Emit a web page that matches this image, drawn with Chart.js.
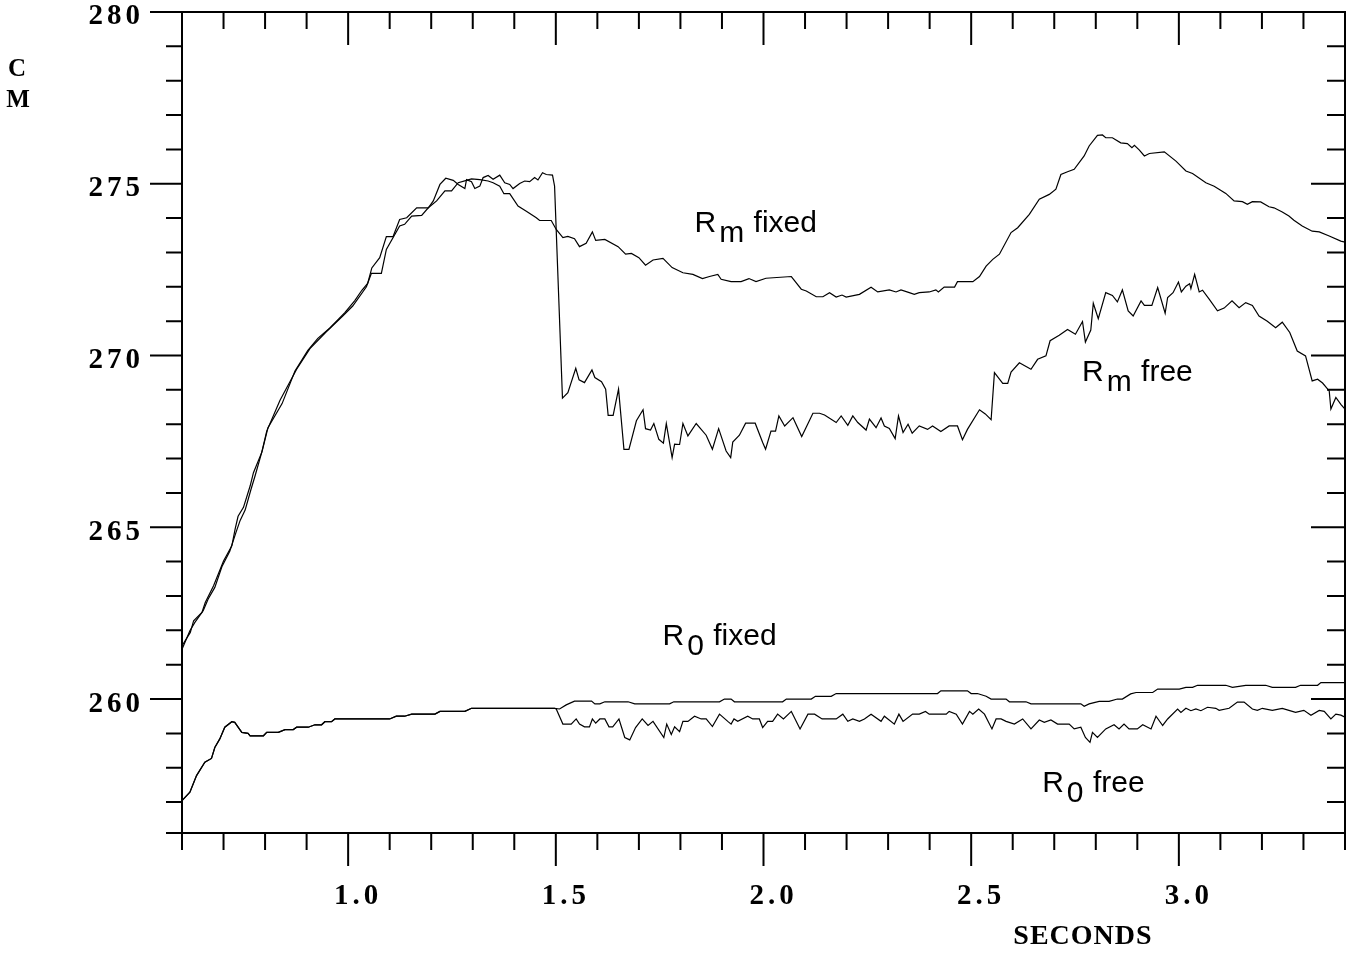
<!DOCTYPE html>
<html>
<head>
<meta charset="utf-8">
<title>Rm / R0 vs seconds</title>
<script src="https://cdn.jsdelivr.net/npm/chart.js@4.4.1/dist/chart.umd.min.js"></script>
<style>
  html, body { margin: 0; padding: 0; background: #fff; }
  #wrap { width: 1346px; height: 958px; }
</style>
</head>
<body>
<div id="wrap"><canvas id="chart" width="1346" height="958"></canvas></div>
<script>
// ==== Data (seconds / cm) ====
const rmFixedTime = [0.600, 0.620, 0.628, 0.648, 0.656, 0.676, 0.700, 0.720, 0.728, 0.735, 0.748, 0.764, 0.772, 0.792, 0.804, 0.836, 0.876, 0.908, 0.948, 0.987,
  1.011, 1.044, 1.056, 1.080, 1.092, 1.124, 1.136, 1.153, 1.177, 1.193, 1.213, 1.233, 1.249, 1.265, 1.285, 1.297, 1.317, 1.337, 1.349, 1.365,
  1.375, 1.389, 1.409, 1.429, 1.453, 1.461, 1.489, 1.501, 1.517, 1.529, 1.545, 1.557, 1.573, 1.588, 1.596, 1.618, 1.650, 1.668, 1.682, 1.700,
  1.716, 1.734, 1.758, 1.780, 1.806, 1.830, 1.853, 1.870, 1.890, 1.898, 1.922, 1.946, 1.965, 1.982, 2.006, 2.067, 2.091, 2.103, 2.127, 2.143,
  2.159, 2.175, 2.189, 2.199, 2.231, 2.259, 2.275, 2.303, 2.319, 2.331, 2.351, 2.363, 2.375, 2.399, 2.415, 2.421, 2.435, 2.460, 2.467, 2.504,
  2.520, 2.536, 2.552, 2.568, 2.596, 2.612, 2.640, 2.664, 2.688, 2.704, 2.716, 2.732, 2.748, 2.772, 2.784, 2.804, 2.816, 2.824, 2.840, 2.860,
  2.876, 2.887, 2.893, 2.905, 2.917, 2.929, 2.965, 2.993, 3.017, 3.033, 3.065, 3.085, 3.113, 3.133, 3.153, 3.165, 3.177, 3.197, 3.217, 3.229,
  3.249, 3.265, 3.277, 3.297, 3.321, 3.338, 3.362, 3.390, 3.400];
const rmFixedCm = [261.55, 261.94, 262.28, 262.52, 262.81, 263.30, 264.02, 264.46, 264.95, 265.32, 265.58, 266.20, 266.59, 267.18, 267.80, 268.70, 269.60, 270.20, 270.70, 271.15,
  271.44, 272.00, 272.39, 272.39, 273.09, 273.77, 273.82, 274.06, 274.08, 274.30, 274.50, 274.79, 274.79, 275.03, 275.10, 275.14, 275.12, 275.08, 275.03, 274.93,
  274.71, 274.71, 274.35, 274.20, 274.01, 273.93, 273.93, 273.67, 273.43, 273.47, 273.40, 273.17, 273.27, 273.60, 273.35, 273.38, 273.17, 272.95, 272.97, 272.85,
  272.63, 272.78, 272.83, 272.56, 272.41, 272.36, 272.24, 272.30, 272.36, 272.22, 272.15, 272.15, 272.24, 272.15, 272.25, 272.30, 271.93, 271.88, 271.71, 271.71,
  271.83, 271.70, 271.76, 271.70, 271.78, 271.99, 271.85, 271.91, 271.85, 271.91, 271.83, 271.78, 271.83, 271.85, 271.91, 271.85, 271.99, 271.99, 272.15, 272.15,
  272.30, 272.60, 272.80, 272.95, 273.58, 273.72, 274.11, 274.55, 274.69, 274.84, 275.27, 275.35, 275.42, 275.81, 276.10, 276.41, 276.42, 276.34, 276.34, 276.19,
  276.17, 276.05, 276.12, 275.98, 275.81, 275.88, 275.93, 275.66, 275.37, 275.30, 275.03, 274.93, 274.72, 274.50, 274.48, 274.40, 274.48, 274.47, 274.33, 274.30,
  274.18, 274.06, 273.94, 273.77, 273.62, 273.60, 273.48, 273.33, 273.30];

const rmFreeTime = [0.600, 0.619, 0.631, 0.651, 0.663, 0.679, 0.696, 0.715, 0.730, 0.740, 0.752, 0.766, 0.776, 0.794, 0.807, 0.841, 0.872, 0.903, 0.927, 0.956,
  0.992, 1.016, 1.033, 1.047, 1.057, 1.076, 1.092, 1.108, 1.124, 1.141, 1.165, 1.193, 1.205, 1.221, 1.235, 1.253, 1.265, 1.281, 1.285, 1.297,
  1.305, 1.317, 1.325, 1.337, 1.349, 1.365, 1.377, 1.389, 1.397, 1.413, 1.425, 1.437, 1.449, 1.457, 1.468, 1.477, 1.492, 1.497, 1.516, 1.529,
  1.548, 1.556, 1.569, 1.587, 1.594, 1.610, 1.620, 1.626, 1.638, 1.651, 1.664, 1.676, 1.694, 1.710, 1.716, 1.728, 1.736, 1.748, 1.759, 1.766,
  1.780, 1.786, 1.798, 1.806, 1.818, 1.838, 1.862, 1.877, 1.892, 1.910, 1.921, 1.926, 1.942, 1.957, 1.980, 1.998, 2.005, 2.018, 2.029, 2.037,
  2.051, 2.071, 2.092, 2.119, 2.135, 2.147, 2.175, 2.187, 2.203, 2.215, 2.227, 2.247, 2.255, 2.271, 2.283, 2.291, 2.303, 2.317, 2.325, 2.336,
  2.348, 2.358, 2.375, 2.395, 2.407, 2.427, 2.447, 2.467, 2.479, 2.491, 2.520, 2.534, 2.548, 2.556, 2.576, 2.588, 2.596, 2.616, 2.644, 2.660,
  2.680, 2.690, 2.712, 2.732, 2.751, 2.768, 2.775, 2.788, 2.794, 2.806, 2.824, 2.840, 2.852, 2.864, 2.878, 2.890, 2.909, 2.917, 2.935, 2.949,
  2.967, 2.973, 2.986, 2.999, 3.006, 3.017, 3.026, 3.029, 3.038, 3.049, 3.057, 3.073, 3.093, 3.109, 3.128, 3.145, 3.161, 3.177, 3.193, 3.213,
  3.233, 3.249, 3.267, 3.285, 3.305, 3.321, 3.334, 3.346, 3.362, 3.366, 3.378, 3.390, 3.400];
const rmFreeCm = [261.45, 261.99, 262.23, 262.57, 262.91, 263.25, 263.85, 264.30, 264.85, 265.20, 265.50, 266.10, 266.50, 267.27, 267.90, 268.60, 269.55, 270.15, 270.50, 270.80,
  271.25, 271.60, 271.90, 272.10, 272.55, 272.85, 273.46, 273.46, 273.96, 274.01, 274.30, 274.30, 274.50, 274.98, 275.16, 275.10, 274.98, 274.86, 275.12, 275.06,
  274.86, 274.93, 275.18, 275.24, 275.13, 275.25, 275.03, 274.98, 274.86, 275.01, 275.08, 275.06, 275.18, 275.11, 275.32, 275.27, 275.25, 274.93, 268.76, 268.92,
  269.63, 269.29, 269.21, 269.58, 269.36, 269.24, 269.02, 268.26, 268.26, 269.02, 267.27, 267.27, 268.10, 268.42, 267.87, 267.83, 268.02, 267.56, 267.45, 268.02,
  267.03, 267.42, 267.41, 268.02, 267.66, 268.02, 267.68, 267.27, 267.87, 267.22, 267.03, 267.48, 267.68, 268.03, 268.03, 267.47, 267.27, 267.80, 267.80, 268.24,
  267.95, 268.19, 267.64, 268.32, 268.32, 268.27, 268.05, 268.24, 267.97, 268.24, 268.05, 267.83, 268.15, 267.90, 268.18, 267.95, 267.88, 267.58, 268.24, 267.76,
  268.00, 267.74, 267.95, 267.85, 267.95, 267.79, 267.95, 267.95, 267.55, 267.85, 268.42, 268.30, 268.13, 269.50, 269.19, 269.19, 269.52, 269.79, 269.60, 269.89,
  269.99, 270.43, 270.59, 270.76, 270.62, 270.99, 270.39, 270.74, 271.52, 271.07, 271.83, 271.75, 271.56, 271.91, 271.30, 271.15, 271.59, 271.46, 271.46, 271.98,
  271.23, 271.69, 271.83, 272.14, 271.85, 272.02, 272.09, 271.95, 272.36, 271.85, 271.90, 271.64, 271.30, 271.38, 271.59, 271.39, 271.54, 271.46, 271.15, 271.00,
  270.81, 270.97, 270.67, 270.13, 269.99, 269.26, 269.31, 269.20, 268.97, 268.44, 268.78, 268.58, 268.44];

const r0FixedTime = [0.600, 0.619, 0.635, 0.655, 0.671, 0.679, 0.691, 0.703, 0.720, 0.727, 0.744, 0.759, 0.764, 0.796, 0.804, 0.832, 0.848, 0.868, 0.876, 0.904,
  0.920, 0.936, 0.944, 0.960, 0.968, 1.100, 1.116, 1.136, 1.153, 1.209, 1.221, 1.281, 1.297, 1.497, 1.509, 1.525, 1.545, 1.586, 1.594, 1.606,
  1.618, 1.674, 1.690, 1.774, 1.784, 1.894, 1.906, 1.922, 1.930, 2.046, 2.055, 2.115, 2.125, 2.163, 2.175, 2.419, 2.427, 2.491, 2.500, 2.515,
  2.536, 2.548, 2.584, 2.592, 2.632, 2.644, 2.764, 2.772, 2.784, 2.808, 2.832, 2.852, 2.864, 2.884, 2.897, 2.937, 2.949, 3.001, 3.017, 3.033,
  3.045, 3.113, 3.129, 3.161, 3.209, 3.225, 3.281, 3.293, 3.334, 3.342, 3.400];
const r0FixedCm = [257.04, 257.29, 257.77, 258.16, 258.27, 258.59, 258.84, 259.18, 259.34, 259.32, 259.03, 259.00, 258.93, 258.93, 259.03, 259.03, 259.11, 259.11, 259.18, 259.18,
  259.25, 259.25, 259.34, 259.34, 259.42, 259.42, 259.50, 259.50, 259.56, 259.56, 259.64, 259.64, 259.73, 259.73, 259.71, 259.83, 259.94, 259.94, 259.86, 259.86,
  259.92, 259.92, 259.86, 259.86, 259.92, 259.92, 260.00, 260.00, 259.92, 259.92, 260.00, 260.00, 260.08, 260.08, 260.16, 260.16, 260.24, 260.24, 260.16, 260.16,
  260.08, 260.00, 260.00, 259.92, 259.92, 259.86, 259.86, 259.79, 259.86, 259.93, 259.93, 260.00, 260.00, 260.15, 260.19, 260.19, 260.29, 260.29, 260.34, 260.34,
  260.40, 260.40, 260.34, 260.40, 260.40, 260.34, 260.34, 260.40, 260.40, 260.48, 260.48];

const r0FreeTime = [0.600, 0.619, 0.635, 0.655, 0.671, 0.679, 0.691, 0.703, 0.720, 0.727, 0.744, 0.759, 0.764, 0.796, 0.804, 0.832, 0.848, 0.868, 0.876, 0.904,
  0.920, 0.936, 0.944, 0.960, 0.968, 1.100, 1.116, 1.136, 1.153, 1.209, 1.221, 1.281, 1.297, 1.497, 1.501, 1.517, 1.537, 1.549, 1.557, 1.569,
  1.581, 1.588, 1.596, 1.606, 1.618, 1.628, 1.637, 1.652, 1.666, 1.678, 1.692, 1.708, 1.722, 1.734, 1.760, 1.767, 1.778, 1.786, 1.798, 1.806,
  1.818, 1.834, 1.850, 1.862, 1.877, 1.894, 1.914, 1.922, 1.929, 1.938, 1.962, 1.974, 1.990, 1.998, 2.010, 2.022, 2.034, 2.048, 2.067, 2.088,
  2.107, 2.123, 2.141, 2.175, 2.191, 2.203, 2.215, 2.231, 2.243, 2.259, 2.283, 2.291, 2.315, 2.326, 2.336, 2.359, 2.375, 2.390, 2.399, 2.440,
  2.447, 2.464, 2.479, 2.496, 2.504, 2.518, 2.532, 2.550, 2.560, 2.572, 2.584, 2.604, 2.624, 2.644, 2.664, 2.676, 2.692, 2.708, 2.736, 2.748,
  2.764, 2.775, 2.786, 2.792, 2.804, 2.824, 2.844, 2.856, 2.868, 2.880, 2.900, 2.913, 2.933, 2.945, 2.961, 2.973, 2.997, 3.005, 3.017, 3.029,
  3.041, 3.053, 3.069, 3.089, 3.097, 3.121, 3.141, 3.157, 3.177, 3.189, 3.201, 3.225, 3.249, 3.265, 3.281, 3.301, 3.318, 3.338, 3.350, 3.366,
  3.378, 3.390, 3.400];
const r0FreeCm = [257.04, 257.29, 257.77, 258.16, 258.27, 258.59, 258.84, 259.18, 259.34, 259.32, 259.03, 259.00, 258.93, 258.93, 259.03, 259.03, 259.11, 259.11, 259.18, 259.18,
  259.25, 259.25, 259.34, 259.34, 259.42, 259.42, 259.50, 259.50, 259.56, 259.56, 259.64, 259.64, 259.73, 259.73, 259.71, 259.27, 259.27, 259.42, 259.27, 259.19,
  259.19, 259.42, 259.30, 259.42, 259.42, 259.19, 259.19, 259.42, 258.88, 258.81, 259.17, 259.42, 259.23, 259.35, 258.88, 259.27, 258.97, 259.19, 259.05, 259.35,
  259.35, 259.50, 259.42, 259.42, 259.20, 259.56, 259.35, 259.27, 259.42, 259.35, 259.50, 259.42, 259.42, 259.17, 259.35, 259.35, 259.56, 259.42, 259.64, 259.13,
  259.56, 259.56, 259.42, 259.42, 259.56, 259.35, 259.42, 259.35, 259.42, 259.56, 259.35, 259.50, 259.27, 259.56, 259.35, 259.56, 259.56, 259.64, 259.56, 259.56,
  259.64, 259.56, 259.27, 259.64, 259.56, 259.71, 259.56, 259.13, 259.42, 259.42, 259.35, 259.27, 259.42, 259.13, 259.39, 259.32, 259.39, 259.27, 259.27, 259.13,
  259.18, 258.88, 258.74, 259.03, 258.88, 259.13, 259.25, 259.13, 259.27, 259.13, 259.13, 259.25, 259.13, 259.50, 259.23, 259.42, 259.71, 259.61, 259.73, 259.66,
  259.71, 259.66, 259.76, 259.73, 259.67, 259.73, 259.91, 259.91, 259.71, 259.67, 259.73, 259.67, 259.73, 259.67, 259.61, 259.67, 259.53, 259.67, 259.64, 259.42,
  259.56, 259.53, 259.47];

// ==== Axes ====
const xLabelTicks = [1.0, 1.5, 2.0, 2.5, 3.0];
const xMinorTicks = [0.6, 0.7, 0.8, 0.9, 1.1, 1.2, 1.3, 1.4, 1.6, 1.7, 1.8, 1.9, 2.1, 2.2, 2.3, 2.4, 2.6, 2.7, 2.8, 2.9, 3.1, 3.2, 3.3, 3.4];
const yLabelTicks = [260, 265, 270, 275, 280];
const yMinorTicks = [256.1, 257, 258, 259, 261, 262, 263, 264, 266, 267, 268, 269, 271, 272, 273, 274, 276, 277, 278, 279];

// curve names, anchored in data space
const curveNotes = [
  { main: 'R', sub: 'm', rest: ' fixed', t: 1.834, cm: 273.61 },
  { main: 'R', sub: 'm', rest: ' free', t: 2.767, cm: 269.25 },
  { main: 'R', sub: '0', rest: ' fixed', t: 1.757, cm: 261.57 },
  { main: 'R', sub: '0', rest: ' free', t: 2.671, cm: 257.29 }
];

const toPoints = (ts, vs) => ts.map((t, i) => ({ x: t, y: vs[i] }));
const serifBold = '"Liberation Serif", "Times New Roman", serif';

// ==== Letter spacing for tick labels (y drawn first, x after datasets) ====
const spacing = {
  id: 'spacing',
  beforeDraw(chart) { chart.ctx.letterSpacing = '4px'; },
  afterDatasetsDraw(chart) { chart.ctx.letterSpacing = '10px'; }
};

// ==== Frame, ticks, labels ====
const frameAndNotes = {
  id: 'frameAndNotes',
  afterDraw(chart) {
    const { ctx, chartArea: a, scales: { x, y } } = chart;
    ctx.save();
    ctx.letterSpacing = '0px';
    ctx.strokeStyle = '#000';
    ctx.lineWidth = 2;
    ctx.strokeRect(a.left, a.top, a.right - a.left, a.bottom - a.top);

    ctx.beginPath();
    const xTick = (v, len) => {
      const px = x.getPixelForValue(v);
      ctx.moveTo(px, a.bottom); ctx.lineTo(px, a.bottom + len);
      ctx.moveTo(px, a.top); ctx.lineTo(px, a.top + len);
    };
    const yTick = (v, outLen, inLen) => {
      const py = y.getPixelForValue(v);
      ctx.moveTo(a.left - outLen, py); ctx.lineTo(a.left, py);
      ctx.moveTo(a.right - inLen, py); ctx.lineTo(a.right, py);
    };
    xMinorTicks.forEach(v => xTick(v, 17));
    xLabelTicks.forEach(v => xTick(v, 33));
    yMinorTicks.forEach(v => yTick(v, 16, 18));
    yLabelTicks.forEach(v => yTick(v, 32, 34));
    ctx.stroke();

    // curve names
    ctx.fillStyle = '#000';
    ctx.font = '30px "Liberation Sans", Arial, sans-serif';
    ctx.textBaseline = 'alphabetic';
    ctx.textAlign = 'left';
    curveNotes.forEach(n => {
      let px = x.getPixelForValue(n.t);
      const py = y.getPixelForValue(n.cm);
      ctx.fillText(n.main, px, py);
      px += ctx.measureText(n.main).width + 3;
      ctx.fillText(n.sub, px, py + 10);
      px += ctx.measureText(n.sub).width + 1;
      ctx.fillText(n.rest, px, py);
    });

    // axis titles
    ctx.font = 'bold 25px ' + serifBold;
    ctx.textAlign = 'center';
    ctx.textBaseline = 'middle';
    ctx.fillText('C', 17, 70);
    ctx.fillText('M', 18, 101);
    ctx.font = 'bold 28px ' + serifBold;
    ctx.letterSpacing = '1px';
    ctx.fillText('SECONDS', 1083, 937);
    ctx.restore();
  }
};

const chart = new Chart(document.getElementById('chart'), {
  type: 'line',
  data: {
    datasets: [
      { label: 'Rm fixed', data: toPoints(rmFixedTime, rmFixedCm) },
      { label: 'Rm free', data: toPoints(rmFreeTime, rmFreeCm) },
      { label: 'R0 fixed', data: toPoints(r0FixedTime, r0FixedCm) },
      { label: 'R0 free', data: toPoints(r0FreeTime, r0FreeCm) }
    ].map(d => Object.assign(d, {
      borderColor: '#000',
      borderWidth: 1.2,
      pointRadius: 0,
      tension: 0,
      fill: false
    }))
  },
  options: {
    responsive: false,
    devicePixelRatio: 1,
    animation: false,
    layout: { padding: { top: 12, right: 1, left: 0, bottom: 0 } },
    plugins: { legend: { display: false }, tooltip: { enabled: false } },
    scales: {
      x: {
        type: 'linear',
        min: 0.6,
        max: 3.4,
        z: 1,
        grid: { display: false, drawTicks: false },
        border: { display: false },
        afterBuildTicks: (scale) => { scale.ticks = xLabelTicks.map(v => ({ value: v })); },
        afterFit: (scale) => { scale.height = 125; scale.paddingLeft = 0; scale.paddingRight = 0; },
        ticks: {
          color: '#000',
          font: { family: serifBold, size: 29, weight: 'bold', lineHeight: 1 },
          padding: 49,
          labelOffset: 10,
          maxRotation: 0,
          autoSkip: false,
          callback: (v) => Number(v).toFixed(1)
        }
      },
      y: {
        type: 'linear',
        min: 256.1,
        max: 280,
        grid: { display: false, drawTicks: false },
        border: { display: false },
        afterBuildTicks: (scale) => { scale.ticks = yLabelTicks.map(v => ({ value: v })); },
        afterFit: (scale) => { scale.width = 182; scale.paddingTop = 0; scale.paddingBottom = 0; },
        ticks: {
          color: '#000',
          font: { family: serifBold, size: 29, weight: 'bold', lineHeight: 1 },
          padding: 38,
          labelOffset: 5,
          autoSkip: false,
          callback: (v) => String(v)
        }
      }
    }
  },
  plugins: [spacing, frameAndNotes]
});
</script>
</body>
</html>
